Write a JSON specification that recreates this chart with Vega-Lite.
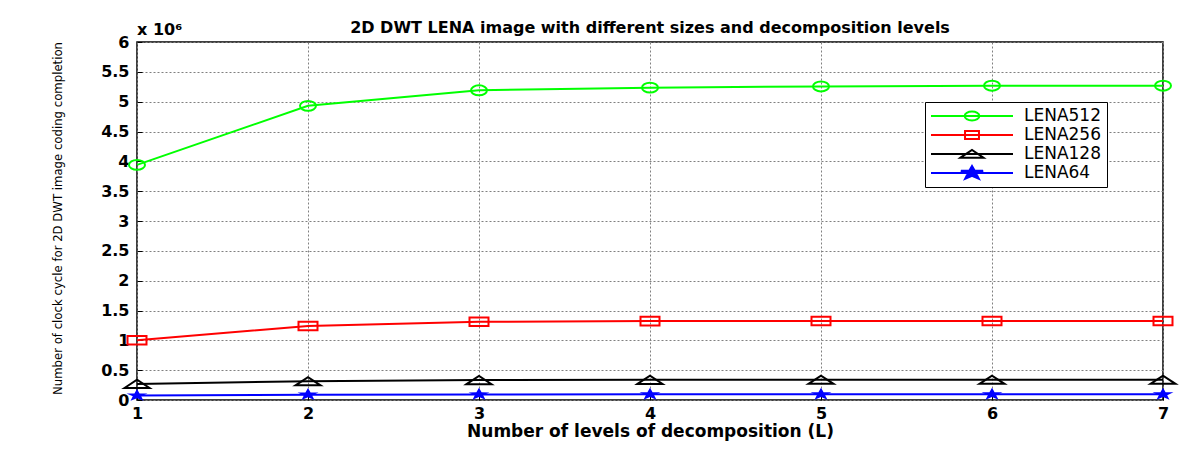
{
  "$schema": "https://vega.github.io/schema/vega-lite/v6.json",
  "width": 1026,
  "height": 358,
  "autosize": {"type": "none"},
  "padding": {"left": 137, "top": 42, "right": 23, "bottom": 55},
  "background": "white",
  "config": {"view": {"stroke": "#000", "strokeWidth": 1.5}},
  "title": {"text": "2D DWT LENA image with different sizes and decomposition levels", "font": "DejaVu Sans", "fontWeight": "bold", "fontSize": 16, "offset": 8, "dy": 22, "color": "#000"},
  "data": {"values": [
    {"series": "LENA512", "L": 1, "cycles": 3940000},
    {"series": "LENA512", "L": 2, "cycles": 4930000},
    {"series": "LENA512", "L": 3, "cycles": 5190000},
    {"series": "LENA512", "L": 4, "cycles": 5235000},
    {"series": "LENA512", "L": 5, "cycles": 5255000},
    {"series": "LENA512", "L": 6, "cycles": 5268000},
    {"series": "LENA512", "L": 7, "cycles": 5268000},
    {"series": "LENA256", "L": 1, "cycles": 1000000},
    {"series": "LENA256", "L": 2, "cycles": 1240000},
    {"series": "LENA256", "L": 3, "cycles": 1310000},
    {"series": "LENA256", "L": 4, "cycles": 1322000},
    {"series": "LENA256", "L": 5, "cycles": 1325000},
    {"series": "LENA256", "L": 6, "cycles": 1325000},
    {"series": "LENA256", "L": 7, "cycles": 1325000},
    {"series": "LENA128", "L": 1, "cycles": 270000},
    {"series": "LENA128", "L": 2, "cycles": 315000},
    {"series": "LENA128", "L": 3, "cycles": 335000},
    {"series": "LENA128", "L": 4, "cycles": 338000},
    {"series": "LENA128", "L": 5, "cycles": 340000},
    {"series": "LENA128", "L": 6, "cycles": 340000},
    {"series": "LENA128", "L": 7, "cycles": 340000},
    {"series": "LENA64", "L": 1, "cycles": 75000},
    {"series": "LENA64", "L": 2, "cycles": 90000},
    {"series": "LENA64", "L": 3, "cycles": 93000},
    {"series": "LENA64", "L": 4, "cycles": 95000},
    {"series": "LENA64", "L": 5, "cycles": 95000},
    {"series": "LENA64", "L": 6, "cycles": 95000},
    {"series": "LENA64", "L": 7, "cycles": 95000}
  ]},
  "encoding": {
    "x": {
      "field": "L", "type": "quantitative",
      "scale": {"domain": [1, 7], "nice": false, "zero": false},
      "axis": {
        "values": [1, 2, 3, 4, 5, 6, 7], "format": "d",
        "title": "Number of levels of decomposition (L)",
        "titleFont": "DejaVu Sans", "titleFontWeight": "bold", "titleFontSize": 17, "titleColor": "#000",
        "titleY": 31, "titleBaseline": "middle",
        "labelFont": "DejaVu Sans", "labelFontWeight": "bold", "labelFontSize": 16, "labelColor": "#000",
        "labelPadding": 10, "labelFlush": false, "labelOverlap": false,
        "domain": false, "ticks": true, "tickSize": -5, "tickColor": "#000",
        "grid": true, "gridColor": "#808080", "gridDash": [2, 2], "gridOpacity": 1
      }
    },
    "y": {
      "field": "cycles", "type": "quantitative",
      "scale": {"domain": [0, 6000000], "nice": false},
      "axis": {
        "values": [0, 500000, 1000000, 1500000, 2000000, 2500000, 3000000, 3500000, 4000000, 4500000, 5000000, 5500000, 6000000],
        "labelExpr": "format(datum.value / 1000000, '~g')",
        "title": "Number of clock cycle for 2D DWT image coding completion",
        "titleFont": "DejaVu Sans Condensed, DejaVu Sans", "titleFontWeight": "normal", "titleFontSize": 13, "titleColor": "#000",
        "titleX": -80, "titleY": 176, "titleAlign": "center", "titleBaseline": "middle",
        "labelFont": "DejaVu Sans", "labelFontWeight": "bold", "labelFontSize": 16, "labelColor": "#000",
        "labelPadding": 13, "labelOverlap": false, "labelFlush": false,
        "domain": false, "ticks": true, "tickSize": -5, "tickColor": "#000",
        "grid": true, "gridColor": "#808080", "gridDash": [2, 2], "gridOpacity": 1
      }
    }
  },
  "layer": [
    {
      "mark": {"type": "line", "strokeWidth": 2},
      "encoding": {
        "color": {"field": "series", "type": "nominal",
          "scale": {"domain": ["LENA512", "LENA256", "LENA128", "LENA64"], "range": ["#00ff00", "#ff0000", "#000000", "#0000ff"]},
          "legend": {"title": null, "orient": "none", "legendX": 788, "legendY": 60, "symbolType": "stroke", "symbolSize": 6724, "symbolStrokeWidth": 2, "labelFont": "DejaVu Sans", "labelFontSize": 17, "labelColor": "#000", "labelOffset": 10, "padding": 5, "rowPadding": 1, "clipHeight": 18, "strokeColor": "#000", "fillColor": "#fff",
            "encode": {"symbols": {"update": {
              "shape": {"signal": "datum.value === 'LENA512' ? 'M-1,0 L1,0 M-0.18,0 A0.18,0.11 0 1,0 0.18,0 A0.18,0.11 0 1,0 -0.18,0' : datum.value === 'LENA256' ? 'M-1,0 L1,0 M-0.17,-0.1 L0.17,-0.1 L0.17,0.1 L-0.17,0.1 Z' : datum.value === 'LENA128' ? 'M-1,0 L1,0 M-0.28,0.09 L0,-0.1 L0.28,0.09 Z' : 'M-1,0 L1,0 M0,-0.17 L0.067,-0.055 L0.27,-0.053 L0.108,0.021 L0.167,0.138 L0,0.068 L-0.167,0.138 L-0.108,0.021 L-0.27,-0.053 L-0.067,-0.055 Z'"},
              "fill": {"signal": "datum.value === 'LENA64' ? '#0000ff' : 'white'"}
            }}}}}
      }
    },
    {
      "transform": [{"filter": "datum.series === 'LENA512'"}],
      "mark": {"type": "point", "shape": "M-1,0 A1,0.62 0 1,0 1,0 A1,0.62 0 1,0 -1,0 Z", "size": 256, "color": "#00ff00", "filled": false, "strokeWidth": 2, "opacity": 1}
    },
    {
      "transform": [{"filter": "datum.series === 'LENA256'"}],
      "mark": {"type": "point", "shape": "M-1,-0.45 L1,-0.45 L1,0.45 L-1,0.45 Z", "size": 361, "color": "#ff0000", "filled": false, "strokeWidth": 2, "opacity": 1}
    },
    {
      "transform": [{"filter": "datum.series === 'LENA128'"}],
      "mark": {"type": "point", "shape": "M-1,0.33 L0,-0.33 L1,0.33 Z", "size": 625, "color": "#000000", "filled": false, "strokeWidth": 2, "opacity": 1}
    },
    {
      "transform": [{"filter": "datum.series === 'LENA64'"}],
      "mark": {"type": "point", "shape": "M0,-0.6 L0.235,-0.194 L0.951,-0.185 L0.38,0.074 L0.588,0.485 L0,0.24 L-0.588,0.485 L-0.38,0.074 L-0.951,-0.185 L-0.235,-0.194 Z", "size": 484, "color": "#0000ff", "filled": true, "strokeWidth": 1, "opacity": 1}
    },
    {
      "transform": [{"filter": "datum.series === 'LENA512' && datum.L === 1"}],
      "mark": {"type": "text", "align": "left", "baseline": "bottom", "yOffset": -4, "font": "DejaVu Sans", "fontWeight": "bold", "fontSize": 16, "fill": "#000"},
      "encoding": {"x": {"datum": 1}, "y": {"datum": 6000000}, "text": {"value": "x 10⁶"}}
    }
  ]
}
